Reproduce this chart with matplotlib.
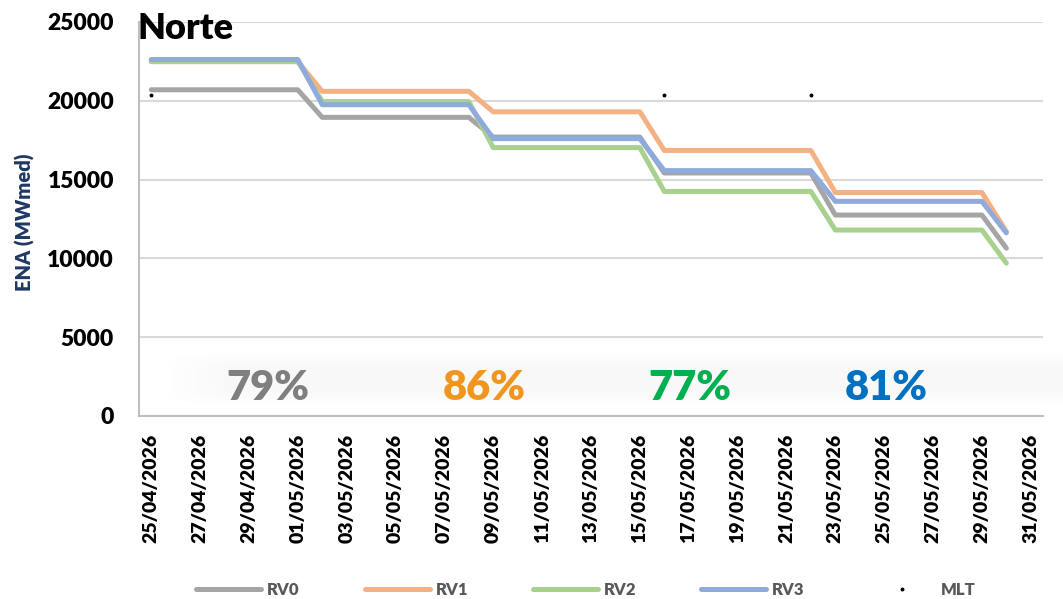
import numpy as np
import pandas as pd
import matplotlib
matplotlib.use('Agg')
import matplotlib.pyplot as plt
import matplotlib.dates as mdates

# Semanas operativas (sábado a sexta) e o último dia do horizonte
inicio_semanas = ['2026-04-25', '2026-05-02', '2026-05-09',
                  '2026-05-16', '2026-05-23', '2026-05-30']
dias_semana = [7, 7, 7, 7, 7, 1]

# ENA prevista por revisão (MWmed), um valor por semana
rv0 = [20700, 18950, 17700, 15420, 12750, 10650]
rv1 = [22480, 20600, 19300, 16850, 14180, 11700]
rv2 = [22520, 19950, 17030, 14250, 11800, 9700]
rv3 = [22620, 19750, 17600, 15570, 13620, 11620]

mlt_datas = ['2026-04-25', '2026-05-16', '2026-05-22']
mlt = [20350, 20350, 20350]

percentuais = ['79%', '86%', '77%', '81%']
cores_pct = ['#7F7F7F', '#F0961E', '#00B050', '#0070C0']

series = {
    'RV0': (rv0, '#A5A5A5'),
    'RV1': (rv1, '#F4B183'),
    'RV2': (rv2, '#A9D18E'),
    'RV3': (rv3, '#8FAADC'),
}

FONTE = ['Lato', 'DejaVu Sans']
PESO = 'heavy'
plt.rcParams['font.family'] = FONTE
plt.rcParams['font.weight'] = PESO

# eixo diário: cada semana repete o valor da revisão
dias = pd.date_range(inicio_semanas[0], periods=sum(dias_semana), freq='D')

fig = plt.figure(figsize=(10.63, 5.99), dpi=100)

# sombra suave atrás da caixa dos percentuais
fundo = fig.add_axes([160 / 1063, 180 / 599, 903 / 1063, 80 / 599])
fundo.set_zorder(0)
fundo.axis('off')
yy = np.linspace(-1, 1, 80)[:, None]
xx = np.linspace(0, 1, 300)[None, :]
alfa = 0.05 * np.exp(-(yy / 0.55) ** 4) * np.clip(xx / 0.08, 0, 1)
sombra = np.zeros((80, 300, 4))
sombra[..., :3] = 0.45
sombra[..., 3] = alfa
fundo.imshow(sombra, aspect='auto', interpolation='bilinear')

ax = fig.add_axes([139 / 1063, 183 / 599, 904 / 1063, 394 / 599])
ax.set_zorder(1)
ax.set_facecolor('none')

for nome, (valores, cor) in series.items():
    ax.plot(dias, np.repeat(valores, dias_semana), color=cor, lw=3.6,
            solid_capstyle='round', solid_joinstyle='round', label=nome,
            zorder=3)

ax.plot(pd.to_datetime(mlt_datas), mlt, ls='none', marker='o',
        markersize=1.8, color='black', label='MLT', zorder=4)

inicio = pd.Timestamp('2026-04-25')
fim = pd.Timestamp('2026-05-31')
ax.set_xlim(mdates.date2num(inicio) - 0.5, mdates.date2num(fim) + 0.5)
ax.set_ylim(0, 25000)

ax.set_xticks(pd.date_range(inicio, fim, freq='2D'))
ax.xaxis.set_major_formatter(mdates.DateFormatter('%d/%m/%Y'))
ax.set_yticks(np.arange(0, 25001, 5000))

ax.tick_params(axis='x', length=0, pad=13, labelsize=14, rotation=90)
ax.tick_params(axis='y', length=0, pad=18, labelsize=16.5)
for lbl in ax.get_xticklabels() + ax.get_yticklabels():
    lbl.set_fontweight(PESO)

ax.grid(axis='y', color='#D9D9D9', lw=1.5)
ax.set_axisbelow(True)
for lado in ['top', 'right']:
    ax.spines[lado].set_visible(False)
for lado in ['left', 'bottom']:
    ax.spines[lado].set_color('#BFBFBF')
    ax.spines[lado].set_linewidth(1.5)

pos_x = [0.1427, 0.3816, 0.6095, 0.8263]
for txt, cor, x in zip(percentuais, cores_pct, pos_x):
    ax.text(x, 0.071, txt, transform=ax.transAxes, ha='center',
            va='center', fontsize=30, fontweight=PESO, color=cor,
            zorder=5)

fig.text(137 / 1063, 1 - 39 / 599, 'Norte', fontsize=26,
         fontweight=PESO, va='baseline', ha='left')
fig.text(25 / 1063, 1 - 222 / 599, 'ENA (MWmed)', rotation=90,
         fontsize=14.5, fontweight=PESO, color='#1F3864',
         ha='center', va='center')

fig.legend(loc='center', bbox_to_anchor=(0.551, 0.015), ncol=5,
           frameon=False, handlelength=3.9,
           handletextpad=0.35, columnspacing=3.9, labelcolor='#595959',
           prop={'family': FONTE, 'weight': PESO, 'size': 12})

fig.savefig('out.png', dpi=100)
